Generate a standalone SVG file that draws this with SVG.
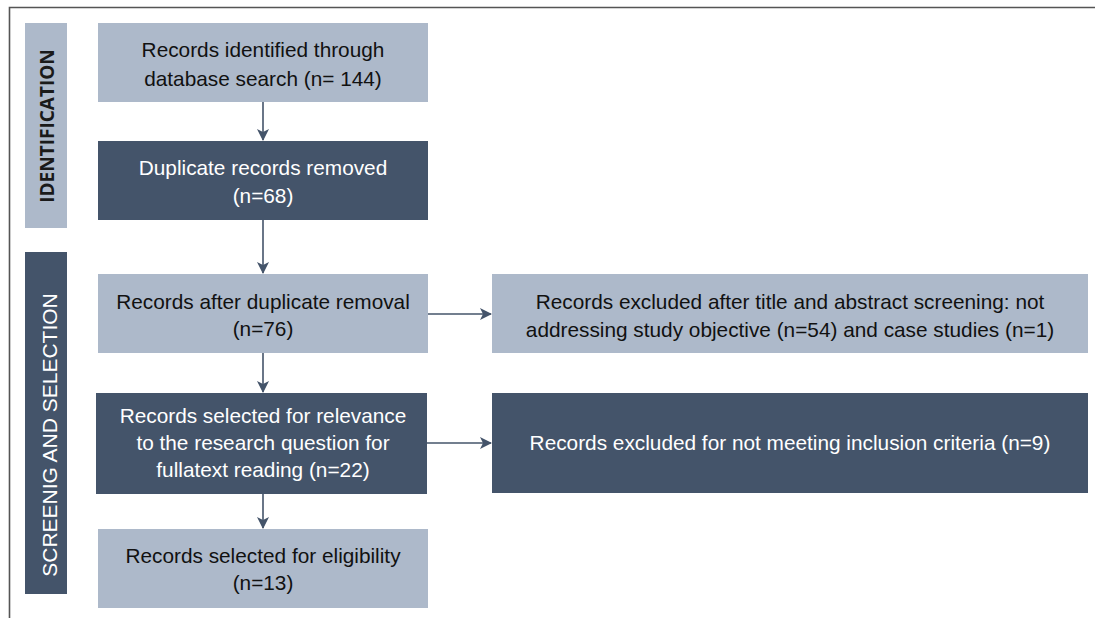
<svg xmlns="http://www.w3.org/2000/svg" width="1095" height="618" viewBox="0 0 1095 618">
<style>
.light{fill:#adb9ca}
.dark{fill:#44546a}
.t{font-family:"Liberation Sans",Arial,sans-serif;font-size:20.8px;text-anchor:middle}
.tl{fill:#111111}
.td{fill:#ffffff}
.conn line{stroke:#44546a;stroke-width:1.6;fill:none}
</style>
<defs>
<marker id="ah" viewBox="0 0 12 12" refX="11" refY="6" markerWidth="12" markerHeight="12" markerUnits="userSpaceOnUse" orient="auto">
<path d="M0,0 L12,6 L0,12 L3,6 Z" fill="#44546a"/>
</marker>
</defs>
<rect width="1095" height="618" fill="#ffffff"/>
<path d="M9.5,618 V7.5 H1095" fill="none" stroke="#555555" stroke-width="1.6"/>

<g id="band-identification">
<rect class="light" x="25" y="23" width="42" height="205"/>
<text transform="translate(54,126) rotate(-90)" style="font-family:'Open Sans','Liberation Sans',sans-serif;font-size:19px;font-weight:bold;text-anchor:middle;fill:#1a1a1a">IDENTIFICATION</text>
</g>
<g id="band-screening">
<rect class="dark" x="25" y="252" width="42" height="342"/>
<text transform="translate(57,435) rotate(-90)" style="font-family:'Liberation Sans',Arial,sans-serif;font-size:21px;text-anchor:middle;fill:#ffffff">SCREENIG AND SELECTION</text>
</g>

<g id="connectors" class="conn">
<line x1="263" y1="101" x2="263" y2="140" marker-end="url(#ah)"/>
<line x1="263" y1="220" x2="263" y2="273" marker-end="url(#ah)"/>
<line x1="263" y1="353" x2="263" y2="392" marker-end="url(#ah)"/>
<line x1="263" y1="494" x2="263" y2="528" marker-end="url(#ah)"/>
<line x1="428" y1="314" x2="491" y2="314" marker-end="url(#ah)"/>
<line x1="427" y1="443" x2="491" y2="443" marker-end="url(#ah)"/>
</g>

<g id="n1">
<rect class="light" x="98" y="23" width="330" height="79"/>
<text class="t tl" x="263" y="57">Records identified through</text>
<text class="t tl" x="263" y="86">database search (n= 144)</text>
</g>
<g id="n2">
<rect class="dark" x="98" y="141" width="330" height="79"/>
<text class="t td" x="263" y="175">Duplicate records removed</text>
<text class="t td" x="263" y="203">(n=68)</text>
</g>
<g id="n3">
<rect class="light" x="98" y="274" width="330" height="79"/>
<text class="t tl" x="263" y="309">Records after duplicate removal</text>
<text class="t tl" x="263" y="336">(n=76)</text>
</g>
<g id="n4">
<rect class="dark" x="96" y="393" width="331" height="101"/>
<text class="t td" x="263" y="423">Records selected for relevance</text>
<text class="t td" x="263" y="450">to the research question for</text>
<text class="t td" x="263" y="477">fullatext reading (n=22)</text>
</g>
<g id="n5">
<rect class="light" x="98" y="529" width="330" height="79"/>
<text class="t tl" x="263" y="563">Records selected for eligibility</text>
<text class="t tl" x="263" y="590">(n=13)</text>
</g>
<g id="nA">
<rect class="light" x="492" y="274" width="596" height="79"/>
<text class="t tl" x="790" y="309">Records excluded after title and abstract screening: not</text>
<text class="t tl" x="790" y="337">addressing study objective (n=54) and case studies (n=1)</text>
</g>
<g id="nB">
<rect class="dark" x="492" y="393" width="596" height="100"/>
<text class="t td" x="790" y="450">Records excluded for not meeting inclusion criteria (n=9)</text>
</g>
</svg>
